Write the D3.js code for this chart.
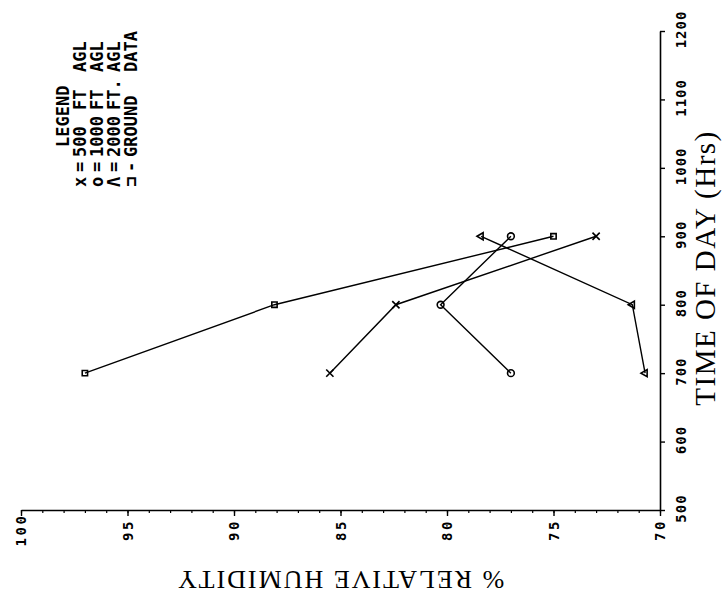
<!DOCTYPE html>
<html>
<head>
<meta charset="utf-8">
<script src="https://cdn.jsdelivr.net/npm/d3@7"></script>
<style>
  body { margin: 0; background: #fff; }
  svg { display: block; }
</style>
</head>
<body>
<div id="chart"></div>
<script>
// Hours of the day that were sampled
const hours = [700, 800, 900];

// % relative humidity per series
const rh500 = [85.5, 82.4, 73.0];
const rh1000 = [77.0, 80.3, 77.0];
const rh2000 = [70.7, 71.3, 78.4];
const rhGround = [97.0, 88.1, 75.0];

// Axis ticks
const rhTicks = [100, 95, 90, 85, 80, 75, 70];
const rhMinorTicks = d3.range(70, 101, 1);
const hourTicks = [500, 600, 700, 800, 900, 1000, 1100, 1200];

// Legend text
const legendMarks = ["x", "o", "Λ", "⊐"];
const legendValues = ["500", "1000", "2000", "GROUND"];
const legendUnits = ["FT", "FT", "FT.", ""];
const legendTails = ["AGL", "AGL", "AGL", "DATA"];

const width = 722, height = 598;

const svg = d3.select("#chart")
    .append("svg")
    .attr("width", width)
    .attr("height", height);

// The plot is turned on its side: humidity runs along the bottom, time up the right
const x = d3.scaleLinear().domain([100, 70]).range([21, 660]);
const y = d3.scaleLinear().domain([500, 1200]).range([510, 31]);

const tickFont = "'DejaVu Sans Mono', monospace";

// Bottom axis (% RH), minor ticks first
svg.append("g")
    .attr("transform", "translate(0,510)")
    .call(d3.axisBottom(x).tickValues(rhMinorTicks).tickSize(3).tickFormat(""))
    .call(g => g.select(".domain").remove())
    .selectAll("line").attr("stroke", "#000").attr("stroke-width", 1.2);

const xAxis = svg.append("g")
    .attr("transform", "translate(0,510)")
    .call(d3.axisBottom(x).tickValues(rhTicks).tickSizeInner(6).tickSizeOuter(0).tickFormat(d3.format("d")));
xAxis.select(".domain").attr("stroke", "#000").attr("stroke-width", 1.6);
xAxis.selectAll("line").attr("stroke", "#000").attr("stroke-width", 1.4);
xAxis.selectAll("text")
    .attr("transform", "rotate(-90)")
    .attr("x", -20)
    .attr("y", 0)
    .attr("dy", "0.35em")
    .attr("text-anchor", "middle")
    .attr("font-family", tickFont)
    .attr("font-weight", "bold")
    .attr("font-size", 14)
    .attr("letter-spacing", 2.5)
    .attr("fill", "#000");

// Right axis (time of day)
const yAxis = svg.append("g")
    .attr("transform", "translate(660,0)")
    .call(d3.axisRight(y).tickValues(hourTicks).tickSizeInner(5).tickSizeOuter(0).tickFormat(d3.format("d")));
yAxis.select(".domain").attr("stroke", "#000").attr("stroke-width", 1.6);
yAxis.selectAll("line").attr("stroke", "#000").attr("stroke-width", 1.4);
yAxis.selectAll("text")
    .attr("transform", "rotate(-90)")
    .attr("x", 2)
    .attr("y", 21)
    .attr("dy", "0.35em")
    .attr("text-anchor", "middle")
    .attr("font-family", tickFont)
    .attr("font-weight", "bold")
    .attr("font-size", 14)
    .attr("letter-spacing", 1)
    .attr("fill", "#000");

// Axis titles
svg.append("text")
    .attr("transform", "translate(705,268) rotate(-90)")
    .attr("dy", "0.35em")
    .attr("text-anchor", "middle")
    .attr("font-family", "'Liberation Serif', serif")
    .attr("font-size", 29)
    .attr("letter-spacing", 1.5)
    .text("TIME OF DAY (Hrs)");

svg.append("text")
    .attr("transform", "translate(340,580) rotate(180)")
    .attr("dy", "0.35em")
    .attr("text-anchor", "middle")
    .attr("font-family", "'Liberation Serif', serif")
    .attr("font-size", 26)
    .attr("letter-spacing", 2)
    .text("% RELATIVE HUMIDITY");

// Series
const series = [
    { values: rh500, symbol: d3.symbolX, size: 36, rotate: 0 },
    { values: rh1000, symbol: d3.symbolCircle, size: 36, rotate: 0 },
    { values: rh2000, symbol: d3.symbolTriangle2, size: 36, rotate: -90 },
    { values: rhGround, symbol: d3.symbolSquare2, size: 36, rotate: 0 }
];

const line = d3.line()
    .x(d => x(d.rh))
    .y(d => y(d.hour));

series.forEach(function (s) {
    const pts = hours.map((h, i) => ({ hour: h, rh: s.values[i] }));

    svg.append("path")
        .datum(pts)
        .attr("fill", "none")
        .attr("stroke", "#000")
        .attr("stroke-width", 1.4)
        .attr("d", line);

    svg.selectAll(null)
        .data(pts)
        .enter()
        .append("path")
        .attr("transform", d => `translate(${x(d.rh)},${y(d.hour)}) rotate(${s.rotate})`)
        .attr("d", d3.symbol().type(s.symbol).size(s.size))
        .attr("fill", "none")
        .attr("stroke", "#000")
        .attr("stroke-width", 1.6);
});

// Legend, written sideways like the rest of the page
const legend = svg.append("g")
    .attr("font-family", tickFont)
    .attr("font-weight", "bold")
    .attr("font-size", 17)
    .attr("fill", "#000");

function sideText(cx, cy, str) {
    legend.append("text")
        .attr("transform", `translate(${cx},${cy}) rotate(-90)`)
        .attr("dy", "0.35em")
        .text(str);
}

sideText(63, 147, "LEGEND");
legendMarks.forEach(function (m, i) {
    const cx = 80 + i * 17;
    sideText(cx, 187, m);
    sideText(cx, 172, i === 3 ? "-" : "=");
    sideText(cx, 157, legendValues[i]);
    if (legendUnits[i]) sideText(cx, 110, legendUnits[i]);
    sideText(cx, 72, legendTails[i]);
});
</script>
</body>
</html>
